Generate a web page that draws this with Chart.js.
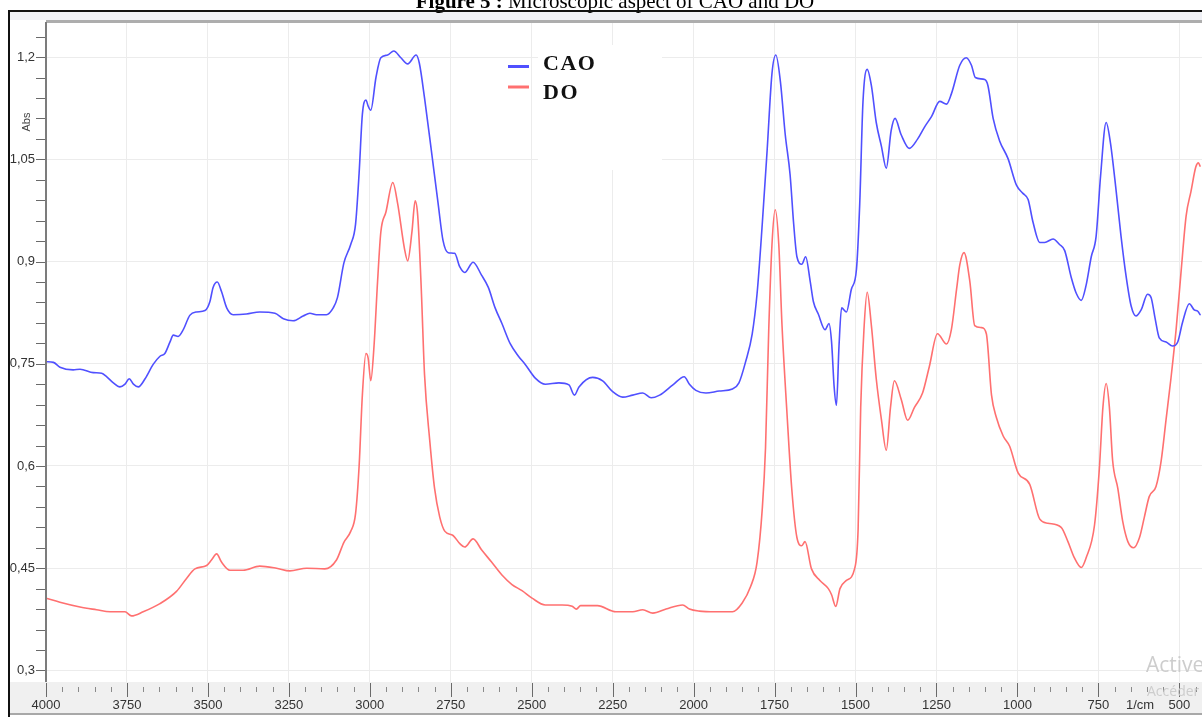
<!DOCTYPE html>
<html>
<head>
<meta charset="utf-8">
<script src="https://cdn.jsdelivr.net/npm/chart.js@4.4.1/dist/chart.umd.min.js"></script>
<style>
html,body{margin:0;padding:0;background:#fff;}
#wrap{position:relative;width:1202px;height:717px;}
canvas{display:block;}
</style>
</head>
<body>
<div id="wrap"><canvas id="c" width="1202" height="717"></canvas></div>
<script>
// ---- Data ----
const caoWn = [4000,3977,3957,3916,3895,3854,3828,3813,3792,3772,3756,3743,3730,3715,3694,3669,3648,3633,3617,3607,3592,3576,3556,3535,3509,3494,3484,3471,3458,3442,3422,3381,3340,3293,3267,3237,3206,3185,3165,3134,3113,3100,3080,3059,3044,3033,3023,3012,3005,2997,2981,2966,2945,2926,2904,2883,2857,2847,2831,2810,2789,2774,2758,2738,2722,2707,2681,2655,2634,2613,2592,2566,2541,2520,2489,2458,2416,2385,2368,2354,2312,2281,2250,2219,2188,2157,2131,2105,2064,2029,2013,1993,1962,1921,1880,1860,1840,1819,1804,1788,1773,1758,1746,1732,1717,1702,1691,1681,1666,1654,1640,1630,1615,1594,1582,1574,1566,1559,1551,1543,1528,1513,1497,1487,1477,1464,1451,1436,1420,1405,1390,1378,1359,1334,1308,1286,1265,1240,1219,1204,1178,1158,1142,1130,1101,1091,1075,1055,1029,1003,983,967,952,931,916,890,870,854,834,818,803,788,772,757,743,726,713,695,680,664,649,634,618,598,587,575,562,541,521,505,490,469,454,443,436];
const caoAbs = [0.753,0.752,0.745,0.741,0.742,0.737,0.736,0.731,0.722,0.716,0.720,0.728,0.720,0.716,0.728,0.749,0.761,0.765,0.782,0.792,0.790,0.800,0.821,0.826,0.828,0.841,0.862,0.870,0.856,0.832,0.822,0.823,0.826,0.824,0.816,0.813,0.820,0.824,0.822,0.822,0.832,0.847,0.898,0.925,0.955,1.030,1.116,1.137,1.128,1.122,1.170,1.199,1.203,1.209,1.199,1.190,1.203,1.191,1.140,1.063,0.985,0.931,0.913,0.912,0.892,0.884,0.899,0.880,0.862,0.832,0.809,0.779,0.761,0.749,0.729,0.720,0.722,0.719,0.704,0.716,0.730,0.725,0.709,0.701,0.704,0.707,0.700,0.704,0.719,0.731,0.720,0.711,0.707,0.710,0.713,0.722,0.752,0.794,0.853,0.955,1.063,1.176,1.203,1.164,1.086,1.027,0.955,0.907,0.896,0.907,0.871,0.841,0.823,0.800,0.809,0.782,0.716,0.689,0.776,0.832,0.826,0.859,0.889,0.985,1.134,1.182,1.158,1.104,1.069,1.037,1.092,1.110,1.086,1.066,1.080,1.098,1.113,1.135,1.131,1.146,1.188,1.199,1.188,1.170,1.167,1.158,1.110,1.077,1.051,1.012,1.000,0.991,0.958,0.928,0.928,0.933,0.925,0.916,0.877,0.853,0.843,0.865,0.907,0.937,1.027,1.104,1.075,1.003,0.937,0.877,0.835,0.820,0.829,0.852,0.847,0.817,0.788,0.782,0.776,0.782,0.811,0.838,0.829,0.827,0.822];

const doWn = [4000,3957,3895,3844,3802,3756,3736,3700,3648,3597,3566,3540,3504,3489,3473,3458,3432,3391,3340,3288,3247,3195,3139,3103,3080,3059,3044,3033,3023,3012,3005,2997,2987,2976,2966,2950,2929,2914,2893,2883,2870,2860,2852,2841,2831,2815,2800,2784,2768,2743,2722,2707,2681,2655,2624,2592,2561,2530,2499,2458,2406,2375,2362,2349,2297,2240,2188,2157,2126,2085,2034,2013,1983,1932,1880,1850,1824,1804,1788,1778,1768,1758,1748,1737,1727,1712,1697,1681,1666,1656,1636,1610,1584,1574,1561,1548,1528,1503,1492,1484,1474,1464,1451,1436,1420,1405,1392,1380,1359,1339,1318,1293,1272,1247,1219,1204,1188,1178,1165,1147,1132,1111,1096,1080,1065,1044,1024,998,962,931,906,865,844,824,803,788,762,747,736,726,716,706,690,675,659,641,623,608,593,572,556,541,526,510,495,479,464,449,441,436];
const doAbs = [0.406,0.400,0.393,0.389,0.386,0.386,0.380,0.386,0.398,0.416,0.435,0.449,0.454,0.462,0.471,0.459,0.447,0.447,0.453,0.450,0.446,0.450,0.449,0.462,0.488,0.504,0.530,0.600,0.704,0.765,0.758,0.725,0.776,0.871,0.943,0.973,1.016,0.985,0.919,0.901,0.943,0.989,0.967,0.859,0.734,0.638,0.567,0.525,0.504,0.498,0.486,0.481,0.493,0.477,0.459,0.440,0.426,0.417,0.406,0.396,0.396,0.394,0.390,0.395,0.395,0.386,0.386,0.389,0.384,0.390,0.396,0.390,0.387,0.386,0.386,0.399,0.423,0.459,0.537,0.626,0.800,0.925,0.976,0.925,0.806,0.680,0.567,0.495,0.483,0.489,0.449,0.432,0.420,0.411,0.394,0.420,0.432,0.449,0.507,0.686,0.800,0.855,0.806,0.728,0.668,0.623,0.686,0.725,0.698,0.667,0.686,0.707,0.746,0.794,0.779,0.800,0.859,0.895,0.913,0.871,0.806,0.803,0.794,0.704,0.671,0.644,0.629,0.590,0.573,0.522,0.516,0.510,0.489,0.465,0.451,0.465,0.513,0.596,0.686,0.721,0.686,0.608,0.567,0.519,0.489,0.480,0.495,0.525,0.555,0.570,0.608,0.668,0.728,0.800,0.883,0.967,1.003,1.039,1.045,1.040];

const seriesNames = ['CAO','DO'];
const xTickValues = [4000,3750,3500,3250,3000,2750,2500,2250,2000,1750,1500,1250,1000,750,500];
const xTickLabels = ['4000','3750','3500','3250','3000','2750','2500','2250','2000','1750','1500','1250','1000','750','500'];
const yTickValues = [0.3,0.45,0.6,0.75,0.9,1.05,1.2];
const yTickLabels = ['0,3','0,45','0,6','0,75','0,9','1,05','1,2'];
const titleBold = 'Figure 5 :';
const titleRest = ' Microscopic aspect of CAO and DO';
const yAxisTitle = 'Abs';
const xUnit = '1/cm';

const X_MIN = 430, X_MAX = 4000, Y_MIN = 0.283, Y_MAX = 1.25;
const BLUE = '#5050ff', RED = '#ff7070';

function pts(xs, ys){ return xs.map((x,i)=>({x:x, y:ys[i]})); }

const decor = {
  id:'decor',
  beforeDraw(chart){
    const ctx = chart.ctx, a = chart.chartArea;
    ctx.save();
    ctx.fillStyle = '#fff'; ctx.fillRect(0,0,chart.width,chart.height);
    ctx.fillStyle = '#eff0f5'; ctx.fillRect(9,12,chart.width-9,8);
    ctx.fillStyle = '#adadad'; ctx.fillRect(a.left,20,chart.width-a.left,3);
    ctx.fillStyle = '#f0f0f0'; ctx.fillRect(9,a.bottom,chart.width-9,713-a.bottom);
    ctx.fillStyle = '#a8a8a8'; ctx.fillRect(9,713,chart.width-9,2);
    ctx.restore();
  },
  beforeDatasetsDraw(chart){
    const ctx = chart.ctx;
    ctx.save();
    ctx.fillStyle = '#fff';
    ctx.fillRect(538,45,124,125);
    ctx.restore();
  },
  afterDraw(chart){
    const ctx = chart.ctx, a = chart.chartArea;
    const xs = chart.scales.x, ys = chart.scales.y;
    ctx.save();
    ctx.strokeStyle = '#6a6a6a'; ctx.lineWidth = 1;
    for (let k = 0; k <= 40; k++) {
      const v = 0.3 + k*0.03;
      if (v > Y_MAX) break;
      const py = Math.round(ys.getPixelForValue(v)) + 0.5;
      ctx.beginPath(); ctx.moveTo(a.left-10, py); ctx.lineTo(a.left, py); ctx.stroke();
    }
    for (let v = 4000; v >= X_MIN; v -= 50) {
      const px = Math.round(xs.getPixelForValue(v)) + 0.5;
      const major = (v % 250) === 0;
      ctx.strokeStyle = major ? '#6a6a6a' : '#8a8a8a';
      ctx.beginPath();
      ctx.moveTo(px, major ? a.bottom+1 : a.bottom+5);
      ctx.lineTo(px, major ? a.bottom+15 : a.bottom+10);
      ctx.stroke();
    }
    ctx.fillStyle = '#7c7c7c'; ctx.fillRect(a.left-1, 22, 2, a.bottom-22);
    ctx.save();
    ctx.translate(27, 122); ctx.rotate(-Math.PI/2);
    ctx.fillStyle = '#444'; ctx.font = '11px "Liberation Sans", Arial, sans-serif';
    ctx.textAlign = 'center'; ctx.textBaseline = 'middle';
    ctx.fillText(yAxisTitle, 0, 0);
    ctx.restore();
    ctx.fillStyle = '#333'; ctx.font = '13px "Liberation Sans", Arial, sans-serif';
    ctx.textAlign = 'center'; ctx.textBaseline = 'middle';
    ctx.fillText(xUnit, 1140, 705);
    ctx.textAlign = 'left'; ctx.textBaseline = 'alphabetic';
    ctx.fillStyle = '#cdcdcd'; ctx.font = '21px "Open Sans", "Noto Sans", sans-serif';
    ctx.fillText('Activer Windows', 1146, 672);
    ctx.font = '14px "Open Sans", "Noto Sans", sans-serif';
    ctx.fillText('Accéder aux paramètres', 1147, 696);
    const leg = [[BLUE,66.5,70],[RED,87,99]];
    leg.forEach((l,i)=>{
      ctx.strokeStyle = l[0]; ctx.lineWidth = 3;
      ctx.beginPath(); ctx.moveTo(508,l[1]); ctx.lineTo(529,l[1]); ctx.stroke();
      ctx.fillStyle = '#111'; ctx.font = 'bold 22px "Liberation Serif", "Times New Roman", serif';
      ctx.letterSpacing = '1.5px';
      ctx.fillText(seriesNames[i], 543, l[2]);
      ctx.letterSpacing = '0px';
    });
    ctx.fillStyle = '#000';
    ctx.font = 'bold 21px "Liberation Serif", "Times New Roman", serif';
    const wb = ctx.measureText(titleBold).width;
    ctx.font = '21px "Liberation Serif", "Times New Roman", serif';
    const wr = ctx.measureText(titleRest).width;
    const x0 = 615 - (wb+wr)/2;
    ctx.font = 'bold 21px "Liberation Serif", "Times New Roman", serif';
    ctx.fillText(titleBold, x0, 8);
    ctx.font = '21px "Liberation Serif", "Times New Roman", serif';
    ctx.fillText(titleRest, x0+wb, 8);
    ctx.fillStyle = '#111';
    ctx.fillRect(8,10,chart.width-8,2);
    ctx.fillRect(8,10,2,chart.height-10);
    ctx.restore();
  }
};

new Chart(document.getElementById('c'), {
  type: 'line',
  data: {
    datasets: [
      { label: seriesNames[0], data: pts(caoWn, caoAbs), borderColor: BLUE, borderWidth: 1.6, pointRadius: 0, fill: false, cubicInterpolationMode: 'monotone' },
      { label: seriesNames[1], data: pts(doWn, doAbs), borderColor: RED, borderWidth: 1.6, pointRadius: 0, fill: false, cubicInterpolationMode: 'monotone' }
    ]
  },
  options: {
    responsive: false,
    animation: false,
    devicePixelRatio: 1,
    layout: { padding: { top: 23, left: 0, right: 0, bottom: 0 } },
    plugins: { legend: { display: false }, tooltip: { enabled: false }, title: { display: false } },
    elements: { line: { borderCapStyle: 'round', borderJoinStyle: 'round' } },
    scales: {
      x: {
        type: 'linear', reverse: true, min: X_MIN, max: X_MAX,
        afterBuildTicks: s => { s.ticks = xTickValues.map(v => ({ value: v })); },
        afterFit: s => { s.height = 35; s.paddingLeft = 0; s.paddingRight = 0; },
        grid: { color: '#ececec', lineWidth: 1, drawTicks: false },
        border: { display: false },
        ticks: {
          autoSkip: false, maxRotation: 0, padding: 16,
          color: '#333', font: { family: '"Liberation Sans", Arial, sans-serif', size: 13 },
          callback: (v, i) => xTickLabels[i]
        }
      },
      y: {
        type: 'linear', min: Y_MIN, max: Y_MAX,
        afterBuildTicks: s => { s.ticks = yTickValues.map(v => ({ value: v })); },
        afterFit: s => { s.width = 46; s.paddingTop = 0; s.paddingBottom = 0; },
        grid: { color: '#ececec', lineWidth: 1, drawTicks: false },
        border: { display: false },
        ticks: {
          padding: 11,
          color: '#333', font: { family: '"Liberation Sans", Arial, sans-serif', size: 13 },
          callback: (v, i) => yTickLabels[i]
        }
      }
    }
  },
  plugins: [decor]
});
</script>
</body>
</html>
